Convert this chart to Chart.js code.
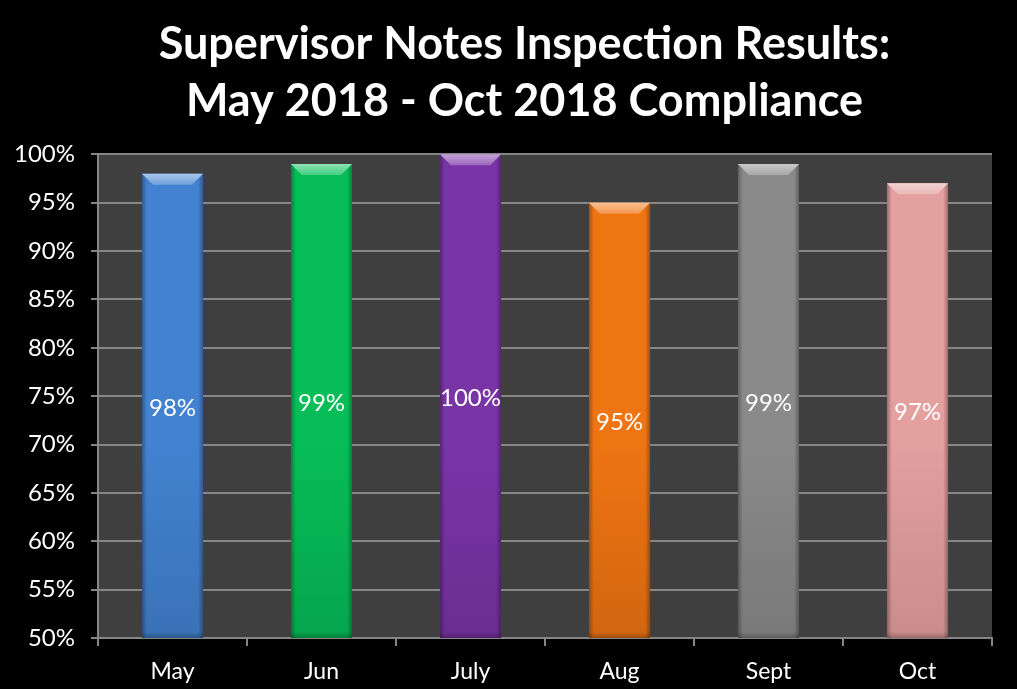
<!DOCTYPE html>
<html>
<head>
<meta charset="utf-8">
<script src="https://cdn.jsdelivr.net/npm/chart.js"></script>
<style>
html,body{margin:0;padding:0;background:#000;}
#wrap{width:1017px;height:689px;}
</style>
</head>
<body>
<div id="wrap"><canvas id="c" width="1017" height="689"></canvas></div>
<script>
const categories = ["May", "Jun", "July", "Aug", "Sept", "Oct"];
const compliance = [98, 99, 100, 95, 99, 97];
const yTicks = [50, 55, 60, 65, 70, 75, 80, 85, 90, 95, 100];
const barColors = ["#4282d0", "#06bd57", "#7934a6", "#ef7412", "#8a8a8a", "#e49f9f"];
const titleLines = ["Supervisor Notes Inspection Results:", "May 2018 - Oct 2018 Compliance"];

const FONT = "Lato, 'Open Sans', sans-serif";

function shade(hex, f) {
  const n = parseInt(hex.slice(1), 16);
  let r = (n >> 16) & 255, g = (n >> 8) & 255, b = n & 255;
  if (f < 0) { r *= (1 + f); g *= (1 + f); b *= (1 + f); }
  else { r += (255 - r) * f; g += (255 - g) * f; b += (255 - b) * f; }
  return `rgb(${Math.round(r)},${Math.round(g)},${Math.round(b)})`;
}

const bgPlugin = {
  id: 'bg',
  afterLayout(chart) {
    if (chart.titleBlock) {
      chart.titleBlock.left = 32;
      chart.titleBlock.right = chart.width;
    }
  },
  beforeDraw(chart) {
    const {ctx, width, height, chartArea: a} = chart;
    ctx.save();
    ctx.fillStyle = '#000';
    ctx.fillRect(0, 0, width, height);
    ctx.fillStyle = '#3f3f3f';
    ctx.fillRect(a.left, a.top, a.right - a.left, a.bottom - a.top);
    ctx.restore();
  }
};

const bevelPlugin = {
  id: 'bevel',
  afterDatasetsDraw(chart) {
    const ctx = chart.ctx;
    const a = chart.chartArea;
    const meta = chart.getDatasetMeta(0);
    meta.data.forEach((bar, i) => {
      const p = bar.getProps(['x', 'y', 'base', 'width'], true);
      const l = p.x - p.width / 2, r = p.x + p.width / 2, t = p.y;
      const b = Math.min(p.base, a.bottom);
      const col = barColors[i];
      const bv = 11;
      ctx.save();
      ctx.beginPath();
      ctx.rect(a.left, a.top - 2, a.right - a.left, a.bottom - a.top + 2);
      ctx.clip();
      const g = ctx.createLinearGradient(l, 0, r, 0);
      g.addColorStop(0, 'rgba(0,0,0,0.3)');
      g.addColorStop(0.08, 'rgba(0,0,0,0)');
      g.addColorStop(0.92, 'rgba(0,0,0,0)');
      g.addColorStop(1, 'rgba(0,0,0,0.3)');
      ctx.fillStyle = g;
      ctx.fillRect(l, t, r - l, b - t);
      const gb = ctx.createLinearGradient(0, b - 6, 0, b);
      gb.addColorStop(0, 'rgba(0,0,0,0)');
      gb.addColorStop(1, 'rgba(0,0,0,0.25)');
      ctx.fillStyle = gb;
      ctx.fillRect(l, b - 6, r - l, 6);
      ctx.beginPath();
      ctx.moveTo(l, t); ctx.lineTo(r, t); ctx.lineTo(r - bv, t + bv); ctx.lineTo(l + bv, t + bv); ctx.closePath();
      const gt = ctx.createLinearGradient(0, t, 0, t + bv);
      gt.addColorStop(0, shade(col, 0.55));
      gt.addColorStop(1, shade(col, 0.25));
      ctx.fillStyle = gt;
      ctx.fill();
      ctx.restore();
      ctx.save();
      ctx.fillStyle = '#ffffff';
      ctx.font = `24px ${FONT}`;
      ctx.textAlign = 'center';
      ctx.textBaseline = 'middle';
      ctx.fillText(compliance[i] + '%', p.x, (t + b) / 2 + 2);
      ctx.restore();
    });
  }
};

const fills = (ctx) => {
  const chart = ctx.chart;
  const a = chart.chartArea;
  const col = barColors[ctx.dataIndex];
  if (!a) return col;
  const g = chart.ctx.createLinearGradient(0, a.top, 0, a.bottom);
  g.addColorStop(0, col);
  g.addColorStop(0.6, col);
  g.addColorStop(1, shade(col, -0.12));
  return g;
};

new Chart(document.getElementById('c'), {
  type: 'bar',
  data: {
    labels: categories,
    datasets: [{
      data: compliance,
      backgroundColor: fills,
      borderWidth: 0,
      barPercentage: 0.82,
      categoryPercentage: 0.5
    }]
  },
  options: {
    responsive: false,
    animation: false,
    layout: {padding: {left: 0, right: 25, top: 0, bottom: 0}},
    plugins: {
      legend: {display: false},
      tooltip: {enabled: false},
      title: {
        display: true,
        text: titleLines,
        color: '#ffffff',
        font: {family: FONT, size: 45, weight: 'bold', lineHeight: 1.27},
        padding: {top: 16, bottom: 24}
      }
    },
    scales: {
      y: {
        min: 50, max: 100,
        afterBuildTicks(scale) { scale.ticks = yTicks.map(v => ({value: v})); },
        afterFit(scale) { scale.width = 98; },
        ticks: {
          color: '#ffffff',
          font: {family: FONT, size: 24},
          padding: 16,
          callback: v => v + '%'
        },
        grid: {color: '#868686', lineWidth: 2, tickLength: 7},
        border: {color: '#868686', width: 2}
      },
      x: {
        afterFit(scale) { scale.height = 51; },
        ticks: {color: '#ffffff', font: {family: FONT, size: 23}, padding: 12},
        grid: {drawOnChartArea: false, color: '#868686', lineWidth: 2, tickLength: 8, offset: true},
        border: {color: '#868686', width: 2}
      }
    }
  },
  plugins: [bgPlugin, bevelPlugin]
});
</script>
</body>
</html>
